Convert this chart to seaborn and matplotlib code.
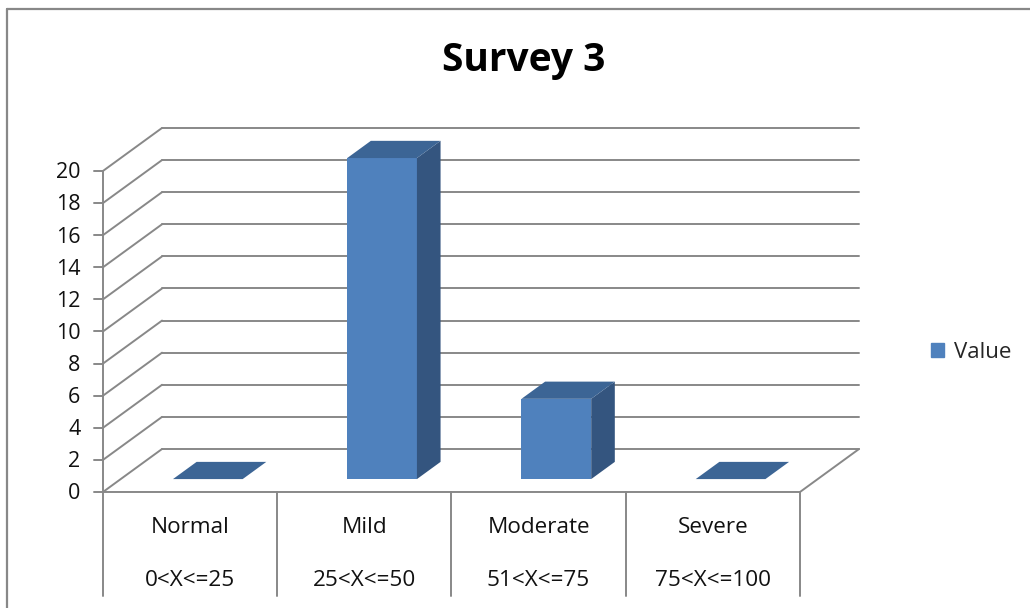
import numpy as np
import pandas as pd
import matplotlib
matplotlib.use("Agg")
import matplotlib.pyplot as plt
from matplotlib.patches import Polygon, Patch
from matplotlib.lines import Line2D
import seaborn as sns

# Data
categories = ["Normal", "Mild", "Moderate", "Severe"]
ranges = ["0<X<=25", "25<X<=50", "51<X<=75", "75<X<=100"]
values = [0, 20, 5, 0]
y_ticks = list(range(0, 21, 2))

sns.set_style("white")
plt.rcParams["font.family"] = ["Open Sans", "DejaVu Sans"]

# fake 3D: oblique offset of the back wall (x in category units, y in value units)
DX, DY = 0.339, 2.68
D0, D1 = 0.3, 0.7          # depth span of the columns
grid_c = "#888888"
front_c, top_c, side_c = "#4F81BD", "#3C6595", "#34557F"
txt_c = "#111111"

fig = plt.figure(figsize=(10.3, 6.08), dpi=100)
ax = fig.add_axes([0, 0, 1, 1])

df = pd.DataFrame({"category": categories, "value": values})
sns.barplot(data=df, x="category", y="value", color=front_c, saturation=1,
            width=0.4, ax=ax, zorder=3)

ddx, ddy = (D1 - D0) * DX, (D1 - D0) * DY
for p in ax.patches:
    p.set_x(p.get_x() + D0 * DX)
    p.set_y(p.get_y() + D0 * DY)
    p.set_edgecolor("none")
    x0, x1 = p.get_x(), p.get_x() + p.get_width()
    y0, y1 = p.get_y(), p.get_y() + p.get_height()
    top = [(x0, y1), (x1, y1), (x1 + ddx, y1 + ddy), (x0 + ddx, y1 + ddy)]
    side = [(x1, y0), (x1, y1), (x1 + ddx, y1 + ddy), (x1 + ddx, y0 + ddy)]
    ax.add_patch(Polygon(side, closed=True, fc=side_c, ec="none", zorder=3))
    ax.add_patch(Polygon(top, closed=True, fc=top_c, ec="none", zorder=3))

n = len(categories)
left, right = -0.5, n - 0.5
lw = 1.4

# walls and grid
for v in y_ticks:
    ax.plot([left + DX, right + DX], [v + DY, v + DY], color=grid_c, lw=lw, zorder=1)
    ax.plot([left, left + DX], [v, v + DY], color=grid_c, lw=lw, zorder=1)
    ax.plot([left - 0.05, left], [v, v], color=grid_c, lw=lw, zorder=1)
    ax.text(left - 0.13, v - 0.12, str(v), ha="right", va="center", fontsize=15.5, color=txt_c)
ax.plot([left, left], [0, max(y_ticks)], color=grid_c, lw=lw, zorder=1)
ax.plot([left, right, right + DX], [0, 0, DY], color=grid_c, lw=lw, zorder=1)

# category table below the floor
for b in np.arange(left, right + 0.01, 1):
    ax.plot([b, b], [0, -6.48], color=grid_c, lw=lw, zorder=1)
for i, (c, r) in enumerate(zip(categories, ranges)):
    ax.text(i, -2.2, c, ha="center", va="center", fontsize=16.2, color=txt_c)
    ax.text(i, -5.5, r, ha="center", va="center", fontsize=16.2, color=txt_c)

ax.set_xlim(-1.091, 4.820)
ax.set_ylim(-7.227, 30.65)
ax.axis("off")

fig.text(524 / 1030, 1 - 60 / 608, "Survey 3", ha="center", va="center",
         fontsize=28, fontweight="bold", color="#000000")

fig.legend(handles=[Patch(color=front_c, label="Value")], loc="center left",
           bbox_to_anchor=(911 / 1030, 1 - 352 / 608), frameon=False,
           handlelength=0.6, handleheight=0.6, handletextpad=0.45, fontsize=16)

# chart border
fig.add_artist(Line2D([7 / 1030, 1], [1 - 8.5 / 608, 1 - 8.5 / 608], color=grid_c, lw=1.6))
fig.add_artist(Line2D([7 / 1030, 7 / 1030], [0, 1 - 8.5 / 608], color=grid_c, lw=1.6))

fig.savefig("out.png", dpi=100)
